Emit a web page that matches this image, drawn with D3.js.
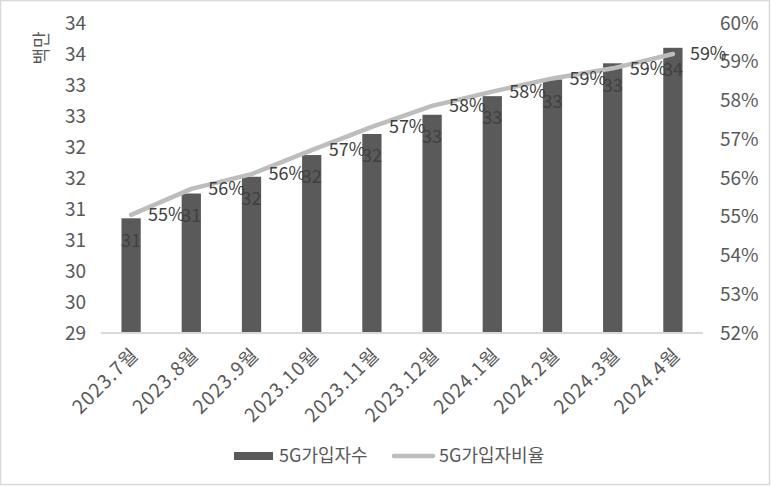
<!DOCTYPE html>
<html><head><meta charset="utf-8">
<script src="https://cdn.jsdelivr.net/npm/d3@7/dist/d3.min.js"></script>
<style>body{margin:0;background:#fff}svg{display:block}text{font-family:"Noto Sans CJK KR","Noto Sans",sans-serif}</style>
</head><body>
<script>
const categories = ["2023.7월","2023.8월","2023.9월","2023.10월","2023.11월","2023.12월","2024.1월","2024.2월","2024.3월","2024.4월"];
const subscribers = [30.85, 31.25, 31.52, 31.87, 32.21, 32.52, 32.82, 33.09, 33.35, 33.60];
const ratio = [0.5505, 0.5572, 0.5610, 0.5672, 0.5732, 0.5786, 0.5823, 0.5857, 0.5883, 0.5920];
const leftTicks = [29, 29.5, 30, 30.5, 31, 31.5, 32, 32.5, 33, 33.5, 34];
const rightTicks = [0.52, 0.53, 0.54, 0.55, 0.56, 0.57, 0.58, 0.59, 0.60];
const seriesNames = ["5G가입자수", "5G가입자비율"];
const yTitle = "백만";

const W = 771, H = 486;
const svg = d3.select("body").append("svg").attr("width", W).attr("height", H);
svg.append("rect").attr("x", 0.5).attr("y", 0.5).attr("width", W - 2).attr("height", H - 2)
  .attr("fill", "#fff").attr("stroke", "#d9d9d9").attr("stroke-width", 1.5);

const x = d3.scaleBand().domain(categories).range([101, 703]).paddingInner(0.68).paddingOuter(0.34);
const yL = d3.scaleLinear().domain([29, 34]).range([333, 23]);
const yR = d3.scaleLinear().domain([0.52, 0.60]).range([333, 23]);
const cx = d => x(d) + x.bandwidth() / 2;

// left axis
const axL = svg.append("g").attr("transform", "translate(101,0)")
  .call(d3.axisLeft(yL).tickValues(leftTicks).tickFormat(d3.format(".0f")).tickSize(0).tickPadding(15));
axL.select(".domain").remove();
axL.selectAll("text").attr("font-size", 19).attr("fill", "#595959")
  .style("font-family", '"Noto Sans CJK KR","Noto Sans",sans-serif');

// right axis
const axR = svg.append("g").attr("transform", "translate(703,0)")
  .call(d3.axisRight(yR).tickValues(rightTicks).tickFormat(d3.format(".0%")).tickSize(0).tickPadding(17));
axR.select(".domain").remove();
axR.selectAll("text").attr("font-size", 19).attr("fill", "#595959")
  .style("font-family", '"Noto Sans CJK KR","Noto Sans",sans-serif');

// y title
svg.append("text").attr("transform", "translate(48,48) rotate(-90)")
  .attr("text-anchor", "middle").attr("font-size", 18).attr("fill", "#595959").text(yTitle);

// bars
svg.append("g").selectAll("rect").data(categories).join("rect")
  .attr("x", d => x(d)).attr("width", x.bandwidth())
  .attr("y", (d, i) => yL(subscribers[i])).attr("height", (d, i) => yL(29) - yL(subscribers[i]))
  .attr("fill", "#5a5a5a");

// baseline
svg.append("line").attr("x1", 101).attr("x2", 703).attr("y1", 333).attr("y2", 333)
  .attr("stroke", "#d9d9d9").attr("stroke-width", 2);

// x labels
svg.append("g").selectAll("text").data(categories).join("text")
  .attr("transform", d => `translate(${cx(d) + 4},${351}) rotate(-45)`)
  .attr("text-anchor", "end").attr("dy", "0.35em").attr("font-size", 19)
  .attr("letter-spacing", 1.2).attr("fill", "#595959")
  .text(d => d);

// line
const line = d3.line().x((d, i) => cx(categories[i])).y(d => yR(d));
svg.append("path").datum(ratio).attr("d", line).attr("fill", "none")
  .attr("stroke", "#bdbdbd").attr("stroke-width", 4.5).attr("stroke-linecap", "round").attr("stroke-linejoin", "round");

// bar labels
svg.append("g").selectAll("text").data(categories).join("text")
  .attr("x", d => cx(d)).attr("y", (d, i) => yL(subscribers[i]) + 22).attr("dy", "0.35em")
  .attr("text-anchor", "middle").attr("font-size", 18).attr("fill", "#404040")
  .text((d, i) => d3.format(".0f")(subscribers[i]));

// line labels
svg.append("g").selectAll("text").data(categories).join("text")
  .attr("x", d => cx(d) + 17).attr("y", (d, i) => yR(ratio[i])).attr("dy", "0.35em")
  .attr("text-anchor", "start").attr("font-size", 18).attr("fill", "#404040")
  .text((d, i) => d3.format(".0%")(ratio[i]));

// legend
const lg = svg.append("g");
lg.append("rect").attr("x", 234).attr("y", 452).attr("width", 39).attr("height", 8).attr("fill", "#5a5a5a");
lg.append("text").attr("x", 279).attr("y", 456).attr("dy", "0.35em").attr("font-size", 18).attr("fill", "#595959").text(seriesNames[0]);
lg.append("line").attr("x1", 394).attr("x2", 433).attr("y1", 456).attr("y2", 456)
  .attr("stroke", "#bdbdbd").attr("stroke-width", 4.5).attr("stroke-linecap", "round");
lg.append("text").attr("x", 439).attr("y", 456).attr("dy", "0.35em").attr("font-size", 18).attr("fill", "#595959").text(seriesNames[1]);
</script>
</body></html>
